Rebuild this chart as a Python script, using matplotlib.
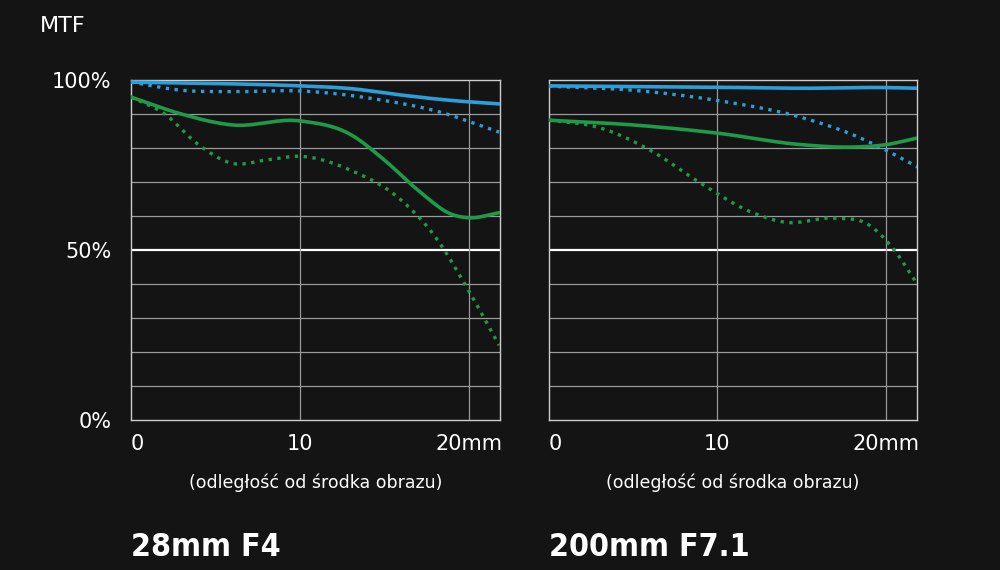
import matplotlib
matplotlib.use("Agg")
import matplotlib.pyplot as plt
import numpy as np

# data: distance (mm) -> MTF (%)
L_bs_x = [0, 5, 10, 13, 16, 19, 21.8]
L_bs_y = [99.4, 99, 98.3, 97.5, 95.6, 94, 93]
L_bd_x = [0, 3, 6, 10, 15, 18, 21.8]
L_bd_y = [99.4, 97, 96.6, 96.8, 94, 91, 84.7]
L_gs_x = [0, 3, 6, 10, 13, 15, 17, 19, 20, 21.8]
L_gs_y = [95, 90, 86.8, 88, 84, 76.5, 67.6, 60.5, 59.5, 61]
L_gd_x = [0, 2, 4, 6, 8, 10, 13, 16, 18, 20, 21.8]
L_gd_y = [95, 90, 81, 75.5, 76.5, 77.6, 73.5, 64.7, 54, 38, 22]

R_bs_x = [0, 5, 10, 15, 20, 21.9]
R_bs_y = [98.3, 98.1, 97.9, 97.6, 97.8, 97.6]
R_bd_x = [0, 5, 10, 15, 18, 20, 21.9]
R_bd_y = [98.2, 97, 94, 89, 84, 79.4, 74.4]
R_gs_x = [0, 5, 10, 15, 18, 20, 21.9]
R_gs_y = [88.2, 86.8, 84.4, 81, 80.3, 81, 83]
R_gd_x = [0, 3, 6, 9, 12, 14, 17, 19, 20.5, 21.9]
R_gd_y = [88.2, 86, 79.4, 69.7, 61.2, 58.2, 59.4, 57.4, 50, 39.7]

titles = ["28mm F4", "200mm F7.1"]
xlabel = "(odległość od środka obrazu)"
xticklabels = ["0", "10", "20mm"]
yticklabels = ["0%", "50%", "100%"]

BG = "#141414"
BLUE = "#2b9fd9"
GREEN = "#1e9a48"

fig = plt.figure(figsize=(10, 5.7), dpi=100, facecolor=BG)

def smooth(x, y):
    x = np.asarray(x, float); y = np.asarray(y, float)
    xs = np.linspace(x[0], x[-1], 300)
    ys = np.empty_like(xs)
    m = np.gradient(y, x)
    for i, xv in enumerate(xs):
        k = min(np.searchsorted(x, xv, side="right") - 1, len(x) - 2)
        h = x[k+1] - x[k]; t = (xv - x[k]) / h
        h00 = 2*t**3 - 3*t**2 + 1; h10 = t**3 - 2*t**2 + t
        h01 = -2*t**3 + 3*t**2; h11 = t**3 - t**2
        ys[i] = h00*y[k] + h10*h*m[k] + h01*y[k+1] + h11*h*m[k+1]
    return xs, ys

panels = [
    (0.131, 0.369, [(L_bs_x, L_bs_y, BLUE, "-"), (L_bd_x, L_bd_y, BLUE, ":"),
                    (L_gs_x, L_gs_y, GREEN, "-"), (L_gd_x, L_gd_y, GREEN, ":")], True),
    (0.549, 0.368, [(R_bs_x, R_bs_y, BLUE, "-"), (R_bd_x, R_bd_y, BLUE, ":"),
                    (R_gs_x, R_gs_y, GREEN, "-"), (R_gd_x, R_gd_y, GREEN, ":")], False),
]

for i, (l, w, series, showy) in enumerate(panels):
    ax = fig.add_axes([l, 0.263, w, 0.5965], facecolor=BG)
    ax.set_xlim(0, 21.85)
    ax.set_ylim(0, 100)
    for v in range(10, 100, 10):
        ax.axhline(v, color="white" if v == 50 else "#9a9a9a",
                   lw=1.6 if v == 50 else 0.9, zorder=1)
    for v in (10, 20):
        ax.axvline(v, color="#9a9a9a", lw=0.9, zorder=1)
    for sp in ax.spines.values():
        sp.set_color("#cccccc"); sp.set_linewidth(1.0)
    for x, y, c, ls in series:
        xs, ys = smooth(x, y)
        ax.plot(xs, ys, color=c, ls=ls, lw=2.6 if ls == "-" else 2.4, zorder=3,
                solid_capstyle="round")
    ax.set_xticks([0, 10, 20])
    ax.set_xticklabels(xticklabels, color="white", fontsize=15)
    ax.tick_params(axis="x", length=0, pad=10)
    ax.tick_params(axis="y", length=0, pad=14)
    if showy:
        ax.set_yticks([0, 50, 100])
        ax.set_yticklabels(yticklabels, color="white", fontsize=15)
    else:
        ax.set_yticks([])
    ax.get_xticklabels()[0].set_horizontalalignment("left")
    ax.text(0.5, -0.185, xlabel, transform=ax.transAxes, ha="center", va="center",
            color="white", fontsize=12.5)
    ax.text(0.0, -0.376, titles[i], transform=ax.transAxes, ha="left", va="center",
            color="white", fontsize=23, fontweight="bold", fontstretch="condensed")

fig.text(0.04, 0.955, "MTF", color="white", fontsize=16, ha="left", va="center")
fig.savefig("out.png", dpi=100, facecolor=BG)
